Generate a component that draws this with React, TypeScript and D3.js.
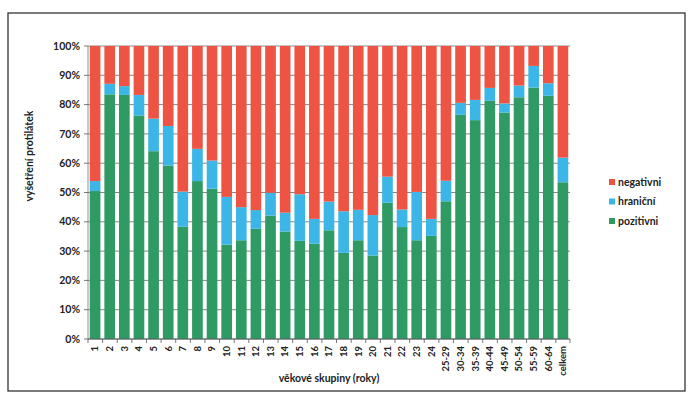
import React from "react";
import * as d3 from "d3";

// age groups and the three result shares (% of tested sera)
const groups = [
  "1", "2", "3", "4", "5", "6", "7", "8", "9", "10", "11", "12", "13", "14", "15", "16",
  "17", "18", "19", "20", "21", "22", "23", "24", "25-29", "30-34", "35-39", "40-44",
  "45-49", "50-54", "55-59", "60-64", "celkem",
];
const pozitivni = [
  50.5, 83.5, 83.3, 76.3, 64.1, 59.2, 38.3, 53.9, 51.3, 32.2, 33.7, 37.6, 42.1, 36.7, 33.5, 32.5,
  37.1, 29.4, 33.7, 28.5, 46.5, 38.2, 33.7, 35.2, 47.0, 76.5, 74.7, 81.3, 77.3, 82.5, 85.8, 83.0, 53.5,
];
const hranicni = [
  3.4, 3.6, 3.0, 7.0, 11.1, 13.5, 12.0, 11.0, 9.6, 16.3, 11.3, 6.4, 7.8, 6.4, 15.9, 8.5,
  9.8, 14.2, 10.4, 13.8, 8.9, 6.0, 16.5, 5.8, 7.0, 4.1, 6.9, 4.4, 3.1, 4.0, 7.4, 4.3, 8.4,
];
const negativni = [
  46.1, 12.9, 13.7, 16.7, 24.8, 27.3, 49.7, 35.1, 39.1, 51.5, 55.0, 56.0, 50.1, 56.9, 50.6, 59.0,
  53.1, 56.4, 55.9, 57.7, 44.6, 55.8, 49.8, 59.0, 46.0, 19.4, 18.4, 14.3, 19.6, 13.5, 6.8, 12.7, 38.1,
];
const yTicks = [0, 10, 20, 30, 40, 50, 60, 70, 80, 90, 100];

const keys = ["pozitivni", "hranicni", "negativni"];
const labels: Record<string, string> = {
  negativni: "negativni",
  hranicni: "hraniční",
  pozitivni: "pozitivni",
};
const colors: Record<string, string> = {
  negativni: "#ee5443",
  hranicni: "#3cb6e6",
  pozitivni: "#2f9a63",
};

const W = 690;
const H = 398;
const m = { left: 88, right: 120, top: 46, bottom: 59 };
const font = "Lato, 'Open Sans', sans-serif";

export default function App() {
  const rows = groups.map((g, i) => ({
    group: g,
    pozitivni: pozitivni[i],
    hranicni: hranicni[i],
    negativni: negativni[i],
  }));
  const layers = d3.stack<any>().keys(keys)(rows);

  const x = d3
    .scaleBand()
    .domain(groups)
    .range([m.left, W - m.right])
    .paddingInner(0.27)
    .paddingOuter(0.12);
  const y = d3.scaleLinear().domain([0, 100]).range([H - m.bottom, m.top]);
  const step = x.step();
  const x0 = m.left;
  const x1 = W - m.right;

  return (
    <svg
      width={W}
      height={H}
      style={{ position: "absolute", left: 0, top: 0, background: "#fff" }}
      fontFamily={font}
    >
      <rect x={8} y={13} width={677} height={378} fill="#fff" stroke="#333" strokeWidth={1.3} />

      {/* gridlines */}
      {yTicks.map((t) => (
        <line key={t} x1={x0} x2={x1} y1={y(t)} y2={y(t)} stroke="#555" strokeWidth={0.7} />
      ))}

      {layers.map((layer) => (
        <g key={layer.key} fill={colors[layer.key]}>
          {layer.map((d: any) => (
            <rect
              key={d.data.group}
              x={x(d.data.group)}
              width={x.bandwidth()}
              y={y(d[1])}
              height={y(d[0]) - y(d[1])}
            />
          ))}
        </g>
      ))}

      {/* y axis */}
      <line x1={x0} x2={x0} y1={y(0)} y2={y(100)} stroke="#777" strokeWidth={0.8} />
      {yTicks.map((t) => (
        <g key={"yt" + t}>
          <line x1={x0 - 4} x2={x0} y1={y(t)} y2={y(t)} stroke="#555" strokeWidth={0.8} />
          <text
            x={x0 - 8}
            y={y(t)}
            dy="0.35em"
            textAnchor="end"
            fontSize={10.5}
            fontWeight="bold"
            fill="#222"
          >
            {t}%
          </text>
        </g>
      ))}

      {/* x axis */}
      <line x1={x0} x2={x1} y1={y(0)} y2={y(0)} stroke="#555" strokeWidth={0.8} />
      {groups.map((g, i) => (
        <line
          key={"xt" + g}
          x1={x0 + i * step}
          x2={x0 + i * step}
          y1={y(0)}
          y2={y(0) + 4}
          stroke="#555"
          strokeWidth={0.8}
        />
      ))}
      <line x1={x1} x2={x1} y1={y(0)} y2={y(0) + 4} stroke="#555" strokeWidth={0.8} />
      {groups.map((g) => {
        const cx = (x(g) as number) + x.bandwidth() / 2;
        return (
          <text
            key={"xl" + g}
            transform={`translate(${cx},${y(0) + 7}) rotate(-90)`}
            dy="0.35em"
            textAnchor="end"
            fontSize={9.5}
            fontWeight="bold"
            fill="#222"
          >
            {g}
          </text>
        );
      })}

      <text
        x={(x0 + x1) / 2}
        y={382}
        textAnchor="middle"
        fontSize={10.5}
        fontWeight="bold"
        fill="#222"
      >
        věkové skupiny (roky)
      </text>
      <text
        transform={`translate(29,156) rotate(-90)`}
        textAnchor="middle"
        dy="0.35em"
        fontSize={10.5}
        fontWeight="bold"
        fill="#222"
      >
        vyšetření protilátek
      </text>

      {/* legend */}
      {["negativni", "hranicni", "pozitivni"].map((k, i) => (
        <g key={"lg" + k} transform={`translate(609,${182 + i * 19.5})`}>
          <rect x={0} y={-3} width={6} height={6} fill={colors[k]} />
          <text x={9} dy="0.35em" fontSize={10.5} fontWeight="bold" fill="#222">
            {labels[k]}
          </text>
        </g>
      ))}
    </svg>
  );
}
